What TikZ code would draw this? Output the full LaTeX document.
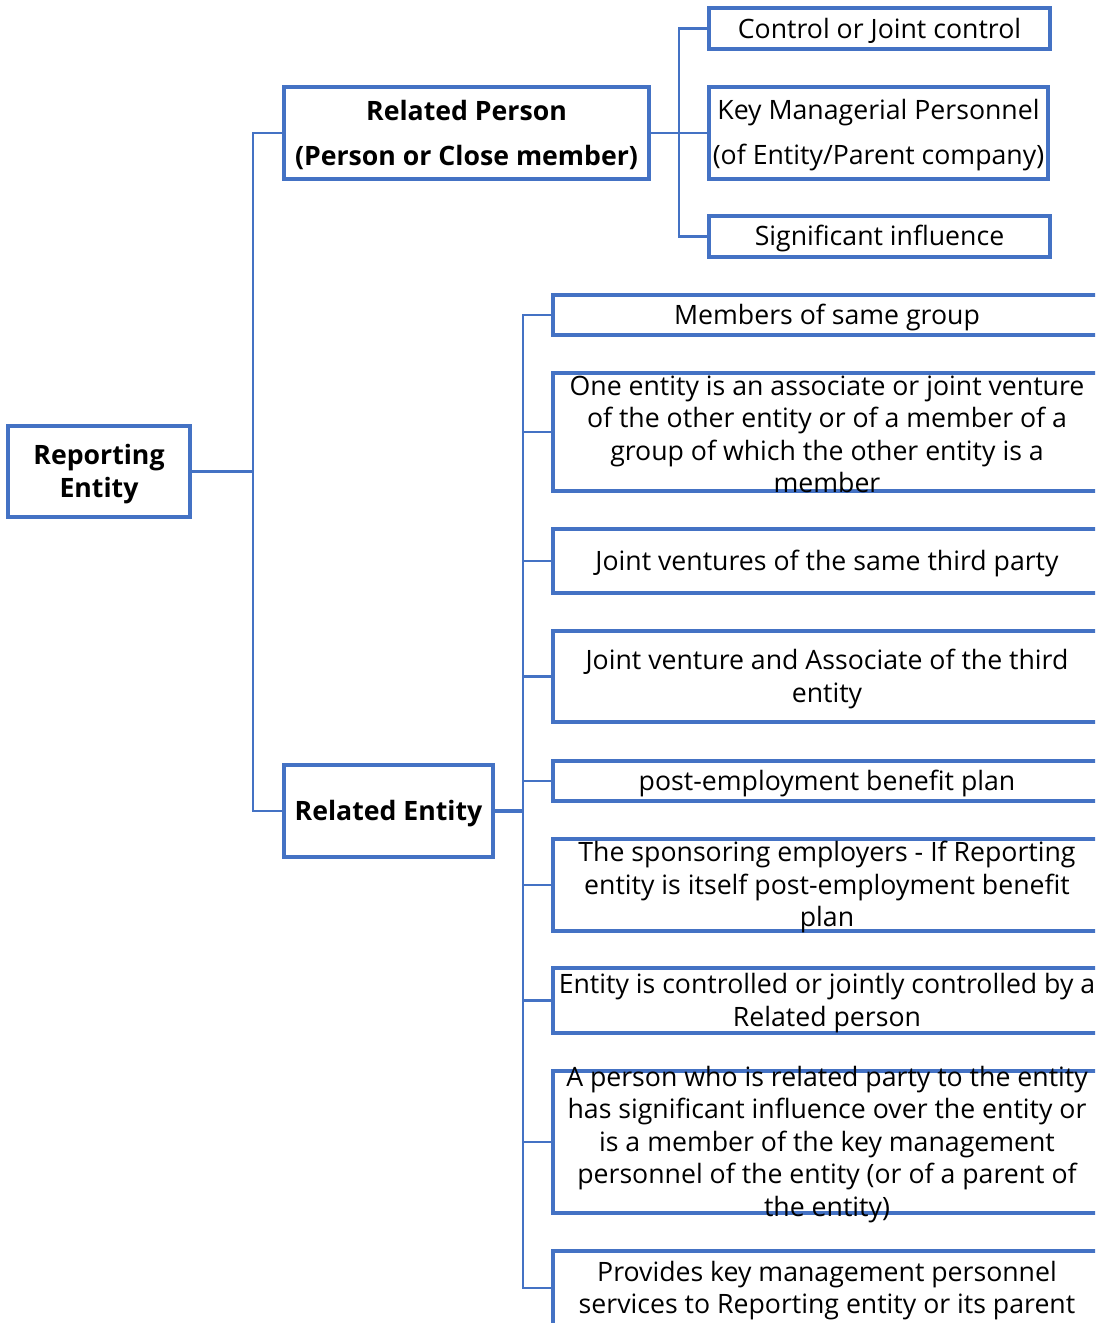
\documentclass[tikz,border=0pt]{standalone}
\usepackage{fontspec}
\setmainfont{Open Sans}
\usetikzlibrary{positioning}
\definecolor{frame}{HTML}{4472C4}
\begin{document}
\begin{tikzpicture}[x=0.75pt,y=-0.75pt,
  box/.style={draw=frame, line width=2.3pt, inner sep=0pt, fill=none},
  link/.style={draw=frame, line width=2pt},
  txt/.style={align=center, inner sep=0pt, yshift=-1.8pt, font=\fontsize{20pt}{24.4pt}\selectfont},
  btxt/.style={align=center, inner sep=0pt, yshift=-1.8pt, font=\fontsize{20pt}{24.4pt}\selectfont\bfseries},
  wide/.style={box, minimum width=411pt},
]
\useasboundingbox (0,0) rectangle (1095,1323);
\clip (0,0) rectangle (1095,1323);

% root and first level
\node[box, minimum width=136.5pt, minimum height=68.25pt] (rep) at (99,471.5) {};
\node[btxt] (rept) at (rep) {Reporting\\Entity};
\node[box, minimum width=273.75pt, minimum height=69pt] (rp) at (466.5,133) {};
\node[btxt, font=\fontsize{20pt}{33.75pt}\selectfont\bfseries] (rpt) at (rp) {Related Person\\(Person or Close member)};
\node[box, minimum width=156.75pt, minimum height=69pt] (re) at (388.5,811) {};
\node[btxt] (ret) at (re) {Related Entity};

% related person branches
\node[box, minimum width=255.75pt, minimum height=30.75pt] (c1) at (879.5,28.5) {};
\node[txt] at (c1) {Control or Joint control};
\node[box, minimum width=254.25pt, minimum height=69pt] (c2) at (878.5,133) {};
\node[txt, font=\fontsize{20pt}{33.75pt}\selectfont] at (c2) {Key Managerial Personnel\\(of Entity/Parent company)};
\node[box, minimum width=255.75pt, minimum height=30.75pt] (c3) at (879.5,236.5) {};
\node[txt] at (c3) {Significant influence};

% related entity branches
\node[wide, minimum height=30pt] (e1) at (827,315) {};
\node[txt] at (e1) {Members of same group};
\node[wide, minimum height=88.5pt] (e2) at (827,432) {};
\node[txt] at (e2) {One entity is an associate or joint venture\\of the other entity or of a member of a\\group of which the other entity is a\\member};
\node[wide, minimum height=48pt] (e3) at (827,561) {};
\node[txt] at (e3) {Joint ventures of the same third party};
\node[wide, minimum height=68.25pt] (e4) at (827,676.5) {};
\node[txt] at (e4) {Joint venture and Associate of the third\\entity};
\node[wide, minimum height=30pt] (e5) at (827,781) {};
\node[txt] at (e5) {post-employment benefit plan};
\node[wide, minimum height=69pt] (e6) at (827,885) {};
\node[txt] at (e6) {The sponsoring employers - If Reporting\\entity is itself post-employment benefit\\plan};
\node[wide, minimum height=48.75pt] (e7) at (827,1000.5) {};
\node[txt] at (e7) {Entity is controlled or jointly controlled by a\\Related person};
\node[wide, minimum height=106.5pt] (e8) at (827,1142) {};
\node[txt] at (e8) {A person who is related party to the entity\\has significant influence over the entity or\\is a member of the key management\\personnel of the entity (or of a parent of\\the entity)};
\node[wide, minimum height=55.5pt] (e9) at (827,1288) {};
\node[txt] at (e9) {Provides key management personnel\\services to Reporting entity or its parent};

% connectors
\coordinate (j1) at (253,471.5);
\coordinate (j2) at (679,133);
\coordinate (j3) at (523,811);
\draw[link] (rep.east) -- (j1);
\draw[link] (rp.west) -| (j1) |- (re.west);
\draw[link] (rp.east) -- (c2.west);
\draw[link] (c1.west) -| (j2) |- (c3.west);
\draw[link, line width=2.6pt] (re.east) -- (j3);
\draw[link] (e1.west) -| (j3) |- (e9.west);
\foreach \n in {e2,e3,e4,e5,e6,e7,e8}
  \draw[link] (j3 |- \n.west) -- (\n.west);
\end{tikzpicture}
\end{document}
